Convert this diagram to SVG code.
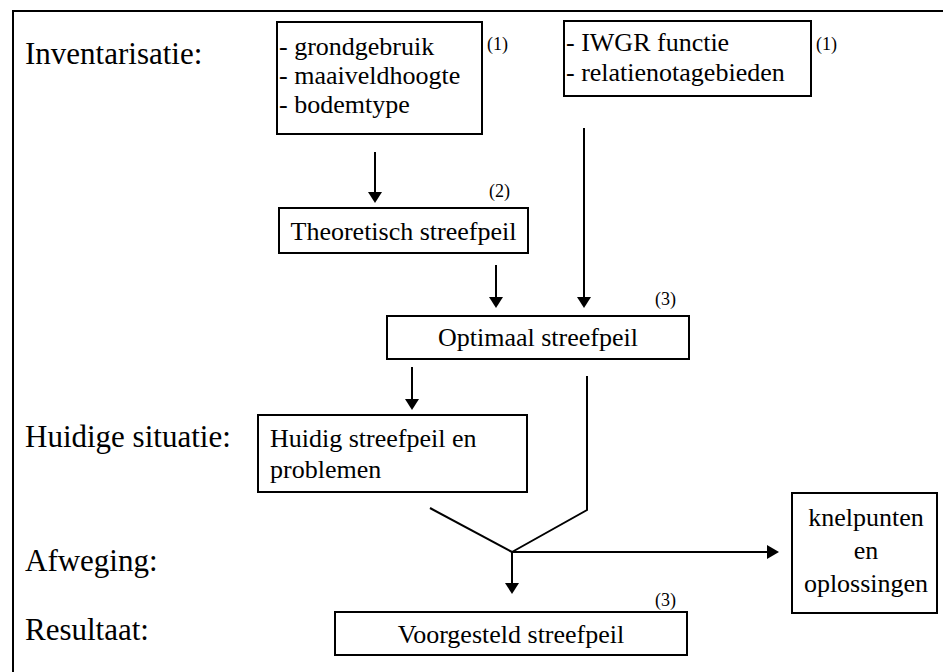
<svg xmlns="http://www.w3.org/2000/svg" width="943" height="672" viewBox="0 0 943 672">
<defs>
<style>
.box{fill:#fff;stroke:#000;stroke-width:2}
.lbl{font-size:31px;fill:#000}
.t{font-size:26px;fill:#000}
.n{font-size:18px;fill:#000}
.c{text-anchor:middle}
.ln{fill:none;stroke:#000;stroke-width:2}
</style>
</defs>
<rect width="943" height="672" fill="#fff"/>
<rect x="13" y="11" width="1000" height="700" fill="none" stroke="#000" stroke-width="2"/>

<g font-family="'Liberation Serif', 'Times New Roman', serif">
<g id="labels">
<text class="lbl" x="25" y="64">Inventarisatie:</text>
<text class="lbl" x="25" y="447">Huidige situatie:</text>
<text class="lbl" x="25" y="571">Afweging:</text>
<text class="lbl" x="25" y="640">Resultaat:</text>
</g>

<g id="connectors">
<line class="ln" x1="375" y1="152" x2="375" y2="195"/>
<line class="ln" x1="584" y1="128" x2="584" y2="300"/>
<line class="ln" x1="496" y1="265" x2="496" y2="300"/>
<line class="ln" x1="412" y1="367" x2="412" y2="402"/>
<polyline class="ln" points="587,376 587,510 512,552"/>
<line class="ln" x1="430" y1="508" x2="512" y2="552"/>
<line class="ln" x1="512" y1="552" x2="770" y2="552"/>
<line class="ln" x1="512" y1="552" x2="512" y2="586"/>
<g fill="#000">
<path d="M368,192 L382,192 L375,203 Z"/>
<path d="M577,297 L591,297 L584,308 Z"/>
<path d="M489,297 L503,297 L496,308 Z"/>
<path d="M405,399 L419,399 L412,410 Z"/>
<path d="M767,545 L767,559 L779,552 Z"/>
<path d="M505,583 L519,583 L512,594 Z"/>
</g>
</g>

<g id="n-inventaris1">
<rect class="box" x="277" y="22" width="205" height="112"/>
<text class="t" x="279" y="55">- grondgebruik</text>
<text class="t" x="279" y="84">- maaiveldhoogte</text>
<text class="t" x="279" y="113">- bodemtype</text>
<text class="n" x="487" y="50">(1)</text>
</g>

<g id="n-inventaris2">
<rect class="box" x="564" y="21" width="247" height="75"/>
<text class="t" x="566" y="51">- IWGR functie</text>
<text class="t" x="566" y="81">- relatienotagebieden</text>
<text class="n" x="816" y="50">(1)</text>
</g>

<g id="n-theoretisch">
<rect class="box" x="279" y="208" width="249" height="45"/>
<text class="t c" x="403.5" y="240">Theoretisch streefpeil</text>
<text class="n" x="489" y="197">(2)</text>
</g>

<g id="n-optimaal">
<rect class="box" x="387" y="316" width="302" height="43"/>
<text class="t c" x="538" y="346">Optimaal streefpeil</text>
<text class="n" x="655" y="305">(3)</text>
</g>

<g id="n-huidig">
<rect class="box" x="258" y="415" width="269" height="77"/>
<text class="t" x="270" y="447">Huidig streefpeil en</text>
<text class="t" x="270" y="478">problemen</text>
</g>

<g id="n-knelpunten">
<rect class="box" x="792" y="493" width="145" height="120"/>
<text class="t c" x="866" y="526">knelpunten</text>
<text class="t c" x="866" y="559">en</text>
<text class="t c" x="866" y="592">oplossingen</text>
</g>

<g id="n-voorgesteld">
<rect class="box" x="335" y="612" width="352" height="43"/>
<text class="t c" x="511" y="643">Voorgesteld streefpeil</text>
<text class="n" x="655" y="606">(3)</text>
</g>
</g>
</svg>
